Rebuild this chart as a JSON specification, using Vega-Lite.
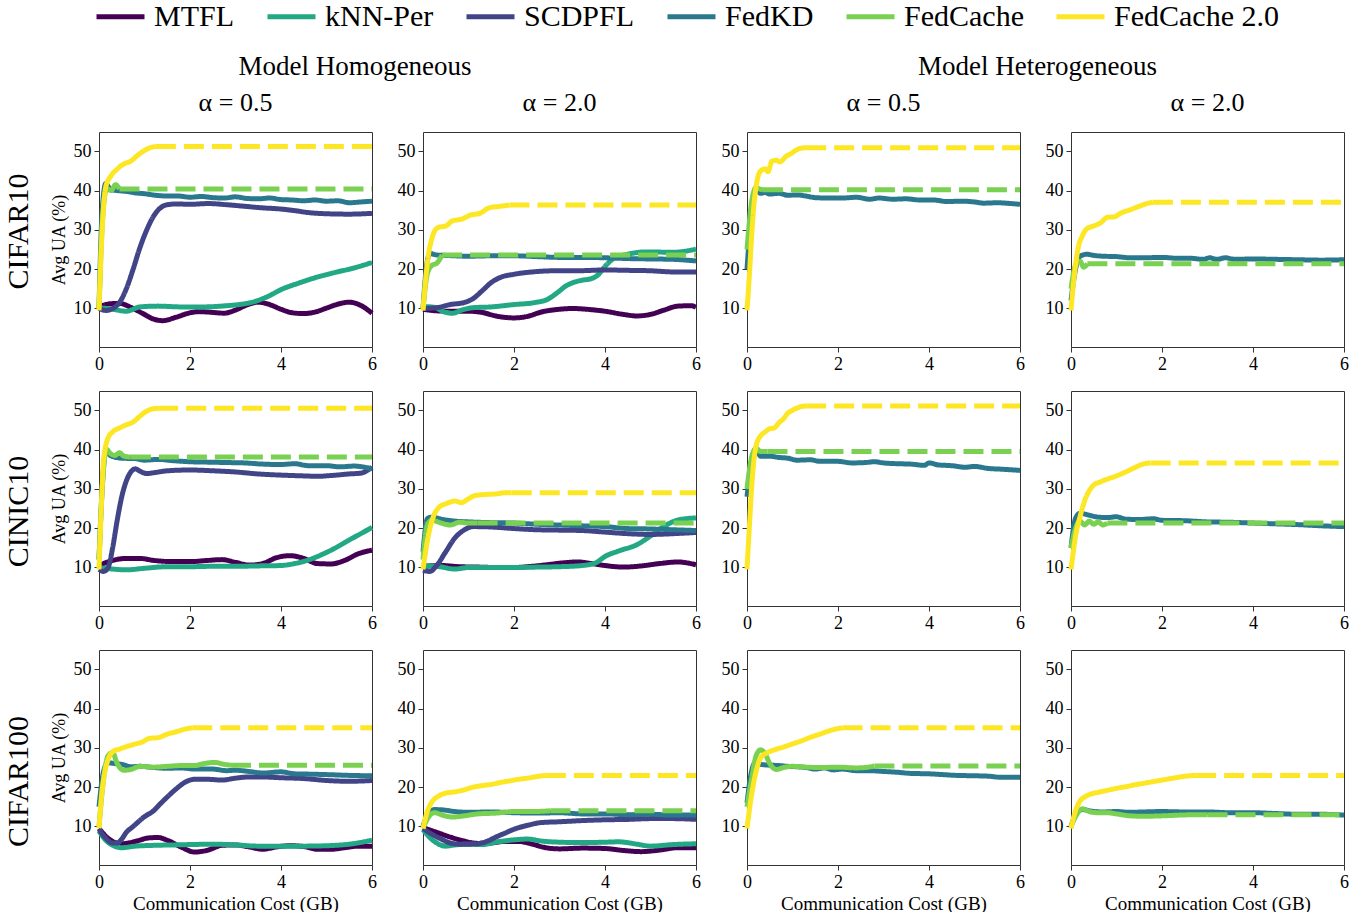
{
"$schema": "https://vega.github.io/schema/vega-lite/v6.json",
"padding": {"left": 3, "top": -10, "right": 5, "bottom": 5},
"background": "white",
"data": {"values": [
{"p":"11","m":"MTFL","s":"s","x":0,"y":10.5},{"p":"11","m":"MTFL","s":"s","x":0.25,"y":11.2},{"p":"11","m":"MTFL","s":"s","x":0.45,"y":11.3},{"p":"11","m":"MTFL","s":"s","x":0.7,"y":10.3},{"p":"11","m":"MTFL","s":"s","x":0.95,"y":8.8},{"p":"11","m":"MTFL","s":"s","x":1.2,"y":7.3},{"p":"11","m":"MTFL","s":"s","x":1.4,"y":6.9},{"p":"11","m":"MTFL","s":"s","x":1.7,"y":7.8},{"p":"11","m":"MTFL","s":"s","x":2.0,"y":8.9},{"p":"11","m":"MTFL","s":"s","x":2.2,"y":9.2},{"p":"11","m":"MTFL","s":"s","x":2.5,"y":9.0},{"p":"11","m":"MTFL","s":"s","x":2.75,"y":8.8},{"p":"11","m":"MTFL","s":"s","x":3.0,"y":9.6},{"p":"11","m":"MTFL","s":"s","x":3.25,"y":10.9},{"p":"11","m":"MTFL","s":"s","x":3.5,"y":11.6},{"p":"11","m":"MTFL","s":"s","x":3.75,"y":11.0},{"p":"11","m":"MTFL","s":"s","x":4.0,"y":9.8},{"p":"11","m":"MTFL","s":"s","x":4.25,"y":8.9},{"p":"11","m":"MTFL","s":"s","x":4.5,"y":8.7},{"p":"11","m":"MTFL","s":"s","x":4.75,"y":9.1},{"p":"11","m":"MTFL","s":"s","x":5.0,"y":10.1},{"p":"11","m":"MTFL","s":"s","x":5.25,"y":11.1},{"p":"11","m":"MTFL","s":"s","x":5.5,"y":11.6},{"p":"11","m":"MTFL","s":"s","x":5.75,"y":10.8},{"p":"11","m":"MTFL","s":"s","x":6.0,"y":8.8},
{"p":"11","m":"kNN-Per","s":"s","x":0,"y":10.2},{"p":"11","m":"kNN-Per","s":"s","x":0.3,"y":9.8},{"p":"11","m":"kNN-Per","s":"s","x":0.6,"y":9.3},{"p":"11","m":"kNN-Per","s":"s","x":0.9,"y":10.4},{"p":"11","m":"kNN-Per","s":"s","x":1.3,"y":10.6},{"p":"11","m":"kNN-Per","s":"s","x":1.8,"y":10.4},{"p":"11","m":"kNN-Per","s":"s","x":2.3,"y":10.4},{"p":"11","m":"kNN-Per","s":"s","x":2.8,"y":10.7},{"p":"11","m":"kNN-Per","s":"s","x":3.0,"y":10.9},{"p":"11","m":"kNN-Per","s":"s","x":3.4,"y":11.7},{"p":"11","m":"kNN-Per","s":"s","x":3.7,"y":13.0},{"p":"11","m":"kNN-Per","s":"s","x":4.0,"y":14.8},{"p":"11","m":"kNN-Per","s":"s","x":4.4,"y":16.5},{"p":"11","m":"kNN-Per","s":"s","x":4.8,"y":18.0},{"p":"11","m":"kNN-Per","s":"s","x":5.2,"y":19.2},{"p":"11","m":"kNN-Per","s":"s","x":5.6,"y":20.3},{"p":"11","m":"kNN-Per","s":"s","x":6.0,"y":21.7},
{"p":"11","m":"SCDPFL","s":"s","x":0,"y":10},{"p":"11","m":"SCDPFL","s":"s","x":0.15,"y":9.5},{"p":"11","m":"SCDPFL","s":"s","x":0.3,"y":10},{"p":"11","m":"SCDPFL","s":"s","x":0.45,"y":11.5},{"p":"11","m":"SCDPFL","s":"s","x":0.6,"y":15},{"p":"11","m":"SCDPFL","s":"s","x":0.75,"y":20},{"p":"11","m":"SCDPFL","s":"s","x":0.9,"y":25.5},{"p":"11","m":"SCDPFL","s":"s","x":1.05,"y":30},{"p":"11","m":"SCDPFL","s":"s","x":1.2,"y":33.5},{"p":"11","m":"SCDPFL","s":"s","x":1.35,"y":35.6},{"p":"11","m":"SCDPFL","s":"s","x":1.5,"y":36.4},{"p":"11","m":"SCDPFL","s":"s","x":1.7,"y":36.6},{"p":"11","m":"SCDPFL","s":"s","x":2.0,"y":36.5},{"p":"11","m":"SCDPFL","s":"s","x":2.4,"y":36.7},{"p":"11","m":"SCDPFL","s":"s","x":2.8,"y":36.4},{"p":"11","m":"SCDPFL","s":"s","x":3.2,"y":36.0},{"p":"11","m":"SCDPFL","s":"s","x":3.6,"y":35.6},{"p":"11","m":"SCDPFL","s":"s","x":4.0,"y":35.3},{"p":"11","m":"SCDPFL","s":"s","x":4.3,"y":34.9},{"p":"11","m":"SCDPFL","s":"s","x":4.6,"y":34.4},{"p":"11","m":"SCDPFL","s":"s","x":5.0,"y":34.1},{"p":"11","m":"SCDPFL","s":"s","x":5.5,"y":34.0},{"p":"11","m":"SCDPFL","s":"s","x":6.0,"y":34.2},
{"p":"11","m":"FedKD","s":"s","x":0,"y":10},{"p":"11","m":"FedKD","s":"s","x":0.07,"y":35},{"p":"11","m":"FedKD","s":"s","x":0.15,"y":41.8},{"p":"11","m":"FedKD","s":"s","x":0.25,"y":40.3},{"p":"11","m":"FedKD","s":"s","x":0.4,"y":40.0},{"p":"11","m":"FedKD","s":"s","x":0.6,"y":39.8},{"p":"11","m":"FedKD","s":"s","x":0.8,"y":39.4},{"p":"11","m":"FedKD","s":"s","x":1.0,"y":39.2},{"p":"11","m":"FedKD","s":"s","x":1.25,"y":38.8},{"p":"11","m":"FedKD","s":"s","x":1.5,"y":38.6},{"p":"11","m":"FedKD","s":"s","x":1.75,"y":38.6},{"p":"11","m":"FedKD","s":"s","x":2.0,"y":38.3},{"p":"11","m":"FedKD","s":"s","x":2.25,"y":38.5},{"p":"11","m":"FedKD","s":"s","x":2.5,"y":38.2},{"p":"11","m":"FedKD","s":"s","x":2.75,"y":38.1},{"p":"11","m":"FedKD","s":"s","x":3.0,"y":38.4},{"p":"11","m":"FedKD","s":"s","x":3.25,"y":38.0},{"p":"11","m":"FedKD","s":"s","x":3.5,"y":37.9},{"p":"11","m":"FedKD","s":"s","x":3.75,"y":38.1},{"p":"11","m":"FedKD","s":"s","x":4.0,"y":37.7},{"p":"11","m":"FedKD","s":"s","x":4.25,"y":37.6},{"p":"11","m":"FedKD","s":"s","x":4.5,"y":37.4},{"p":"11","m":"FedKD","s":"s","x":4.75,"y":37.6},{"p":"11","m":"FedKD","s":"s","x":5.0,"y":37.3},{"p":"11","m":"FedKD","s":"s","x":5.25,"y":37.4},{"p":"11","m":"FedKD","s":"s","x":5.5,"y":36.9},{"p":"11","m":"FedKD","s":"s","x":5.75,"y":37.1},{"p":"11","m":"FedKD","s":"s","x":6.0,"y":37.3},
{"p":"11","m":"FedCache","s":"s","x":0,"y":10},{"p":"11","m":"FedCache","s":"s","x":0.08,"y":33},{"p":"11","m":"FedCache","s":"s","x":0.17,"y":40.5},{"p":"11","m":"FedCache","s":"s","x":0.27,"y":40.0},{"p":"11","m":"FedCache","s":"s","x":0.36,"y":41.5},{"p":"11","m":"FedCache","s":"s","x":0.45,"y":40.4},
{"p":"11","m":"FedCache","s":"d","x":0.45,"y":40.4},{"p":"11","m":"FedCache","s":"d","x":6,"y":40.4},
{"p":"11","m":"FedCache 2.0","s":"s","x":0,"y":9.5},{"p":"11","m":"FedCache 2.0","s":"s","x":0.05,"y":25},{"p":"11","m":"FedCache 2.0","s":"s","x":0.1,"y":36},{"p":"11","m":"FedCache 2.0","s":"s","x":0.15,"y":41},{"p":"11","m":"FedCache 2.0","s":"s","x":0.25,"y":43.5},{"p":"11","m":"FedCache 2.0","s":"s","x":0.4,"y":45.5},{"p":"11","m":"FedCache 2.0","s":"s","x":0.55,"y":46.8},{"p":"11","m":"FedCache 2.0","s":"s","x":0.7,"y":47.5},{"p":"11","m":"FedCache 2.0","s":"s","x":0.85,"y":49.0},{"p":"11","m":"FedCache 2.0","s":"s","x":1.0,"y":50.2},{"p":"11","m":"FedCache 2.0","s":"s","x":1.15,"y":51.0},{"p":"11","m":"FedCache 2.0","s":"s","x":1.25,"y":51.2},
{"p":"11","m":"FedCache 2.0","s":"d","x":1.25,"y":51.2},{"p":"11","m":"FedCache 2.0","s":"d","x":6,"y":51.2},

{"p":"12","m":"MTFL","s":"s","x":0,"y":9.8},{"p":"12","m":"MTFL","s":"s","x":0.3,"y":9.4},{"p":"12","m":"MTFL","s":"s","x":0.6,"y":9.3},{"p":"12","m":"MTFL","s":"s","x":1.0,"y":9.3},{"p":"12","m":"MTFL","s":"s","x":1.3,"y":9.0},{"p":"12","m":"MTFL","s":"s","x":1.6,"y":8.1},{"p":"12","m":"MTFL","s":"s","x":2.0,"y":7.6},{"p":"12","m":"MTFL","s":"s","x":2.3,"y":8.0},{"p":"12","m":"MTFL","s":"s","x":2.6,"y":9.1},{"p":"12","m":"MTFL","s":"s","x":3.0,"y":9.8},{"p":"12","m":"MTFL","s":"s","x":3.3,"y":10.0},{"p":"12","m":"MTFL","s":"s","x":3.6,"y":9.8},{"p":"12","m":"MTFL","s":"s","x":4.0,"y":9.3},{"p":"12","m":"MTFL","s":"s","x":4.4,"y":8.5},{"p":"12","m":"MTFL","s":"s","x":4.7,"y":8.1},{"p":"12","m":"MTFL","s":"s","x":5.0,"y":8.5},{"p":"12","m":"MTFL","s":"s","x":5.3,"y":9.6},{"p":"12","m":"MTFL","s":"s","x":5.6,"y":10.6},{"p":"12","m":"MTFL","s":"s","x":5.9,"y":10.7},{"p":"12","m":"MTFL","s":"s","x":6.0,"y":10.3},
{"p":"12","m":"kNN-Per","s":"s","x":0,"y":10.5},{"p":"12","m":"kNN-Per","s":"s","x":0.25,"y":10.3},{"p":"12","m":"kNN-Per","s":"s","x":0.45,"y":9.2},{"p":"12","m":"kNN-Per","s":"s","x":0.65,"y":8.8},{"p":"12","m":"kNN-Per","s":"s","x":0.85,"y":9.6},{"p":"12","m":"kNN-Per","s":"s","x":1.1,"y":10.2},{"p":"12","m":"kNN-Per","s":"s","x":1.5,"y":10.4},{"p":"12","m":"kNN-Per","s":"s","x":2.0,"y":11.0},{"p":"12","m":"kNN-Per","s":"s","x":2.45,"y":11.5},{"p":"12","m":"kNN-Per","s":"s","x":2.75,"y":12.4},{"p":"12","m":"kNN-Per","s":"s","x":2.95,"y":14.0},{"p":"12","m":"kNN-Per","s":"s","x":3.15,"y":15.8},{"p":"12","m":"kNN-Per","s":"s","x":3.3,"y":16.6},{"p":"12","m":"kNN-Per","s":"s","x":3.5,"y":17.2},{"p":"12","m":"kNN-Per","s":"s","x":3.7,"y":17.6},{"p":"12","m":"kNN-Per","s":"s","x":3.85,"y":18.6},{"p":"12","m":"kNN-Per","s":"s","x":4.0,"y":20.7},{"p":"12","m":"kNN-Per","s":"s","x":4.2,"y":22.8},{"p":"12","m":"kNN-Per","s":"s","x":4.5,"y":23.8},{"p":"12","m":"kNN-Per","s":"s","x":4.9,"y":24.4},{"p":"12","m":"kNN-Per","s":"s","x":5.5,"y":24.3},{"p":"12","m":"kNN-Per","s":"s","x":6.0,"y":25.1},
{"p":"12","m":"SCDPFL","s":"s","x":0,"y":10},{"p":"12","m":"SCDPFL","s":"s","x":0.3,"y":10.2},{"p":"12","m":"SCDPFL","s":"s","x":0.6,"y":11},{"p":"12","m":"SCDPFL","s":"s","x":0.9,"y":11.5},{"p":"12","m":"SCDPFL","s":"s","x":1.1,"y":12.5},{"p":"12","m":"SCDPFL","s":"s","x":1.3,"y":14.5},{"p":"12","m":"SCDPFL","s":"s","x":1.5,"y":16.6},{"p":"12","m":"SCDPFL","s":"s","x":1.7,"y":17.9},{"p":"12","m":"SCDPFL","s":"s","x":2.0,"y":18.7},{"p":"12","m":"SCDPFL","s":"s","x":2.4,"y":19.3},{"p":"12","m":"SCDPFL","s":"s","x":2.95,"y":19.6},{"p":"12","m":"SCDPFL","s":"s","x":3.4,"y":19.6},{"p":"12","m":"SCDPFL","s":"s","x":4.0,"y":19.8},{"p":"12","m":"SCDPFL","s":"s","x":4.5,"y":19.7},{"p":"12","m":"SCDPFL","s":"s","x":5.0,"y":19.6},{"p":"12","m":"SCDPFL","s":"s","x":5.5,"y":19.3},{"p":"12","m":"SCDPFL","s":"s","x":6.0,"y":19.3},
{"p":"12","m":"FedKD","s":"s","x":0,"y":10},{"p":"12","m":"FedKD","s":"s","x":0.07,"y":20},{"p":"12","m":"FedKD","s":"s","x":0.15,"y":24.0},{"p":"12","m":"FedKD","s":"s","x":0.3,"y":23.6},{"p":"12","m":"FedKD","s":"s","x":0.5,"y":23.5},{"p":"12","m":"FedKD","s":"s","x":1.0,"y":23.3},{"p":"12","m":"FedKD","s":"s","x":1.5,"y":23.4},{"p":"12","m":"FedKD","s":"s","x":2.0,"y":23.4},{"p":"12","m":"FedKD","s":"s","x":2.5,"y":23.2},{"p":"12","m":"FedKD","s":"s","x":3.0,"y":23.0},{"p":"12","m":"FedKD","s":"s","x":3.5,"y":23.0},{"p":"12","m":"FedKD","s":"s","x":4.0,"y":22.9},{"p":"12","m":"FedKD","s":"s","x":4.5,"y":22.7},{"p":"12","m":"FedKD","s":"s","x":5.0,"y":22.6},{"p":"12","m":"FedKD","s":"s","x":5.5,"y":22.5},{"p":"12","m":"FedKD","s":"s","x":6.0,"y":22.1},
{"p":"12","m":"FedCache","s":"s","x":0,"y":10},{"p":"12","m":"FedCache","s":"s","x":0.1,"y":19},{"p":"12","m":"FedCache","s":"s","x":0.2,"y":21},{"p":"12","m":"FedCache","s":"s","x":0.3,"y":21.5},{"p":"12","m":"FedCache","s":"s","x":0.42,"y":23.6},
{"p":"12","m":"FedCache","s":"d","x":0.42,"y":23.6},{"p":"12","m":"FedCache","s":"d","x":6,"y":23.6},
{"p":"12","m":"FedCache 2.0","s":"s","x":0,"y":9.5},{"p":"12","m":"FedCache 2.0","s":"s","x":0.1,"y":22},{"p":"12","m":"FedCache 2.0","s":"s","x":0.2,"y":28},{"p":"12","m":"FedCache 2.0","s":"s","x":0.33,"y":30.6},{"p":"12","m":"FedCache 2.0","s":"s","x":0.5,"y":31.0},{"p":"12","m":"FedCache 2.0","s":"s","x":0.65,"y":32.3},{"p":"12","m":"FedCache 2.0","s":"s","x":0.84,"y":32.7},{"p":"12","m":"FedCache 2.0","s":"s","x":1.05,"y":33.8},{"p":"12","m":"FedCache 2.0","s":"s","x":1.25,"y":34.2},{"p":"12","m":"FedCache 2.0","s":"s","x":1.45,"y":35.6},{"p":"12","m":"FedCache 2.0","s":"s","x":1.7,"y":36.0},{"p":"12","m":"FedCache 2.0","s":"s","x":1.9,"y":36.3},
{"p":"12","m":"FedCache 2.0","s":"d","x":1.9,"y":36.3},{"p":"12","m":"FedCache 2.0","s":"d","x":6,"y":36.3},

{"p":"13","m":"FedKD","s":"s","x":0,"y":20},{"p":"13","m":"FedKD","s":"s","x":0.05,"y":28},{"p":"13","m":"FedKD","s":"s","x":0.12,"y":37},{"p":"13","m":"FedKD","s":"s","x":0.2,"y":40.2},{"p":"13","m":"FedKD","s":"s","x":0.3,"y":39.3},{"p":"13","m":"FedKD","s":"s","x":0.4,"y":39.5},{"p":"13","m":"FedKD","s":"s","x":0.5,"y":39.1},{"p":"13","m":"FedKD","s":"s","x":0.7,"y":39.3},{"p":"13","m":"FedKD","s":"s","x":0.9,"y":38.8},{"p":"13","m":"FedKD","s":"s","x":1.1,"y":38.9},{"p":"13","m":"FedKD","s":"s","x":1.3,"y":38.6},{"p":"13","m":"FedKD","s":"s","x":1.5,"y":38.2},{"p":"13","m":"FedKD","s":"s","x":1.8,"y":38.1},{"p":"13","m":"FedKD","s":"s","x":2.1,"y":38.1},{"p":"13","m":"FedKD","s":"s","x":2.4,"y":38.3},{"p":"13","m":"FedKD","s":"s","x":2.7,"y":37.8},{"p":"13","m":"FedKD","s":"s","x":2.9,"y":38.1},{"p":"13","m":"FedKD","s":"s","x":3.2,"y":37.8},{"p":"13","m":"FedKD","s":"s","x":3.5,"y":37.9},{"p":"13","m":"FedKD","s":"s","x":3.8,"y":37.6},{"p":"13","m":"FedKD","s":"s","x":4.1,"y":37.6},{"p":"13","m":"FedKD","s":"s","x":4.4,"y":37.2},{"p":"13","m":"FedKD","s":"s","x":4.7,"y":37.3},{"p":"13","m":"FedKD","s":"s","x":5.0,"y":37.1},{"p":"13","m":"FedKD","s":"s","x":5.2,"y":36.8},{"p":"13","m":"FedKD","s":"s","x":5.5,"y":36.9},{"p":"13","m":"FedKD","s":"s","x":5.8,"y":36.7},{"p":"13","m":"FedKD","s":"s","x":6.0,"y":36.5},
{"p":"13","m":"FedCache","s":"s","x":0,"y":25},{"p":"13","m":"FedCache","s":"s","x":0.1,"y":37},{"p":"13","m":"FedCache","s":"s","x":0.2,"y":40.8},{"p":"13","m":"FedCache","s":"s","x":0.3,"y":40.3},{"p":"13","m":"FedCache","s":"s","x":0.35,"y":40.2},
{"p":"13","m":"FedCache","s":"d","x":0.35,"y":40.2},{"p":"13","m":"FedCache","s":"d","x":6,"y":40.2},
{"p":"13","m":"FedCache 2.0","s":"s","x":0,"y":9.5},{"p":"13","m":"FedCache 2.0","s":"s","x":0.05,"y":18},{"p":"13","m":"FedCache 2.0","s":"s","x":0.1,"y":28},{"p":"13","m":"FedCache 2.0","s":"s","x":0.15,"y":36},{"p":"13","m":"FedCache 2.0","s":"s","x":0.2,"y":41},{"p":"13","m":"FedCache 2.0","s":"s","x":0.3,"y":45.0},{"p":"13","m":"FedCache 2.0","s":"s","x":0.4,"y":45.5},{"p":"13","m":"FedCache 2.0","s":"s","x":0.46,"y":44.8},{"p":"13","m":"FedCache 2.0","s":"s","x":0.55,"y":47.5},{"p":"13","m":"FedCache 2.0","s":"s","x":0.65,"y":47.7},{"p":"13","m":"FedCache 2.0","s":"s","x":0.72,"y":47.3},{"p":"13","m":"FedCache 2.0","s":"s","x":0.86,"y":48.7},{"p":"13","m":"FedCache 2.0","s":"s","x":0.98,"y":49.5},{"p":"13","m":"FedCache 2.0","s":"s","x":1.08,"y":50.3},{"p":"13","m":"FedCache 2.0","s":"s","x":1.16,"y":50.7},{"p":"13","m":"FedCache 2.0","s":"s","x":1.3,"y":50.9},
{"p":"13","m":"FedCache 2.0","s":"d","x":1.3,"y":50.9},{"p":"13","m":"FedCache 2.0","s":"d","x":6,"y":50.9},

{"p":"14","m":"FedKD","s":"s","x":0,"y":12},{"p":"14","m":"FedKD","s":"s","x":0.1,"y":20},{"p":"14","m":"FedKD","s":"s","x":0.2,"y":23.3},{"p":"14","m":"FedKD","s":"s","x":0.35,"y":23.8},{"p":"14","m":"FedKD","s":"s","x":0.5,"y":23.5},{"p":"14","m":"FedKD","s":"s","x":0.7,"y":23.3},{"p":"14","m":"FedKD","s":"s","x":1.0,"y":23.2},{"p":"14","m":"FedKD","s":"s","x":1.3,"y":22.9},{"p":"14","m":"FedKD","s":"s","x":1.6,"y":22.9},{"p":"14","m":"FedKD","s":"s","x":2.0,"y":23.0},{"p":"14","m":"FedKD","s":"s","x":2.3,"y":22.8},{"p":"14","m":"FedKD","s":"s","x":2.6,"y":22.8},{"p":"14","m":"FedKD","s":"s","x":2.9,"y":22.5},{"p":"14","m":"FedKD","s":"s","x":3.05,"y":22.9},{"p":"14","m":"FedKD","s":"s","x":3.2,"y":22.5},{"p":"14","m":"FedKD","s":"s","x":3.4,"y":22.9},{"p":"14","m":"FedKD","s":"s","x":3.6,"y":22.5},{"p":"14","m":"FedKD","s":"s","x":4.0,"y":22.6},{"p":"14","m":"FedKD","s":"s","x":4.5,"y":22.5},{"p":"14","m":"FedKD","s":"s","x":5.0,"y":22.4},{"p":"14","m":"FedKD","s":"s","x":5.5,"y":22.3},{"p":"14","m":"FedKD","s":"s","x":6.0,"y":22.4},
{"p":"14","m":"FedCache","s":"s","x":0,"y":15},{"p":"14","m":"FedCache","s":"s","x":0.1,"y":21},{"p":"14","m":"FedCache","s":"s","x":0.2,"y":22},{"p":"14","m":"FedCache","s":"s","x":0.28,"y":20.5},{"p":"14","m":"FedCache","s":"s","x":0.36,"y":21.4},
{"p":"14","m":"FedCache","s":"d","x":0.36,"y":21.4},{"p":"14","m":"FedCache","s":"d","x":6,"y":21.4},
{"p":"14","m":"FedCache 2.0","s":"s","x":0,"y":9.5},{"p":"14","m":"FedCache 2.0","s":"s","x":0.05,"y":16},{"p":"14","m":"FedCache 2.0","s":"s","x":0.1,"y":21},{"p":"14","m":"FedCache 2.0","s":"s","x":0.15,"y":25},{"p":"14","m":"FedCache 2.0","s":"s","x":0.25,"y":28.5},{"p":"14","m":"FedCache 2.0","s":"s","x":0.35,"y":30.3},{"p":"14","m":"FedCache 2.0","s":"s","x":0.5,"y":31.0},{"p":"14","m":"FedCache 2.0","s":"s","x":0.65,"y":31.8},{"p":"14","m":"FedCache 2.0","s":"s","x":0.8,"y":33.2},{"p":"14","m":"FedCache 2.0","s":"s","x":0.95,"y":33.3},{"p":"14","m":"FedCache 2.0","s":"s","x":1.1,"y":34.3},{"p":"14","m":"FedCache 2.0","s":"s","x":1.3,"y":35.1},{"p":"14","m":"FedCache 2.0","s":"s","x":1.5,"y":36.0},{"p":"14","m":"FedCache 2.0","s":"s","x":1.7,"y":36.8},{"p":"14","m":"FedCache 2.0","s":"s","x":1.8,"y":37.0},
{"p":"14","m":"FedCache 2.0","s":"d","x":1.8,"y":37.0},{"p":"14","m":"FedCache 2.0","s":"d","x":6,"y":37.0},

{"p":"21","m":"MTFL","s":"s","x":0,"y":10.5},{"p":"21","m":"MTFL","s":"s","x":0.3,"y":11.8},{"p":"21","m":"MTFL","s":"s","x":0.6,"y":12.3},{"p":"21","m":"MTFL","s":"s","x":0.9,"y":12.3},{"p":"21","m":"MTFL","s":"s","x":1.2,"y":11.8},{"p":"21","m":"MTFL","s":"s","x":1.6,"y":11.5},{"p":"21","m":"MTFL","s":"s","x":2.0,"y":11.5},{"p":"21","m":"MTFL","s":"s","x":2.4,"y":11.8},{"p":"21","m":"MTFL","s":"s","x":2.7,"y":12.0},{"p":"21","m":"MTFL","s":"s","x":3.0,"y":11.3},{"p":"21","m":"MTFL","s":"s","x":3.3,"y":10.6},{"p":"21","m":"MTFL","s":"s","x":3.6,"y":11.0},{"p":"21","m":"MTFL","s":"s","x":3.9,"y":12.5},{"p":"21","m":"MTFL","s":"s","x":4.2,"y":13.0},{"p":"21","m":"MTFL","s":"s","x":4.5,"y":12.3},{"p":"21","m":"MTFL","s":"s","x":4.8,"y":11.0},{"p":"21","m":"MTFL","s":"s","x":5.1,"y":10.9},{"p":"21","m":"MTFL","s":"s","x":5.4,"y":11.8},{"p":"21","m":"MTFL","s":"s","x":5.7,"y":13.5},{"p":"21","m":"MTFL","s":"s","x":6.0,"y":14.4},
{"p":"21","m":"kNN-Per","s":"s","x":0,"y":10},{"p":"21","m":"kNN-Per","s":"s","x":0.3,"y":9.6},{"p":"21","m":"kNN-Per","s":"s","x":0.6,"y":9.4},{"p":"21","m":"kNN-Per","s":"s","x":1.0,"y":9.8},{"p":"21","m":"kNN-Per","s":"s","x":1.5,"y":10.2},{"p":"21","m":"kNN-Per","s":"s","x":2.0,"y":10.2},{"p":"21","m":"kNN-Per","s":"s","x":2.5,"y":10.3},{"p":"21","m":"kNN-Per","s":"s","x":3.0,"y":10.3},{"p":"21","m":"kNN-Per","s":"s","x":3.5,"y":10.4},{"p":"21","m":"kNN-Per","s":"s","x":4.0,"y":10.5},{"p":"21","m":"kNN-Per","s":"s","x":4.3,"y":11.0},{"p":"21","m":"kNN-Per","s":"s","x":4.6,"y":11.9},{"p":"21","m":"kNN-Per","s":"s","x":4.9,"y":13.3},{"p":"21","m":"kNN-Per","s":"s","x":5.2,"y":15.0},{"p":"21","m":"kNN-Per","s":"s","x":5.5,"y":17.0},{"p":"21","m":"kNN-Per","s":"s","x":5.8,"y":18.9},{"p":"21","m":"kNN-Per","s":"s","x":6.0,"y":20.2},
{"p":"21","m":"SCDPFL","s":"s","x":0,"y":9.5},{"p":"21","m":"SCDPFL","s":"s","x":0.1,"y":9.0},{"p":"21","m":"SCDPFL","s":"s","x":0.2,"y":10},{"p":"21","m":"SCDPFL","s":"s","x":0.3,"y":15},{"p":"21","m":"SCDPFL","s":"s","x":0.4,"y":22},{"p":"21","m":"SCDPFL","s":"s","x":0.5,"y":28},{"p":"21","m":"SCDPFL","s":"s","x":0.6,"y":32},{"p":"21","m":"SCDPFL","s":"s","x":0.7,"y":34.3},{"p":"21","m":"SCDPFL","s":"s","x":0.8,"y":35.1},{"p":"21","m":"SCDPFL","s":"s","x":0.9,"y":34.5},{"p":"21","m":"SCDPFL","s":"s","x":1.05,"y":33.9},{"p":"21","m":"SCDPFL","s":"s","x":1.2,"y":34.1},{"p":"21","m":"SCDPFL","s":"s","x":1.5,"y":34.6},{"p":"21","m":"SCDPFL","s":"s","x":2.0,"y":34.8},{"p":"21","m":"SCDPFL","s":"s","x":2.5,"y":34.6},{"p":"21","m":"SCDPFL","s":"s","x":3.0,"y":34.3},{"p":"21","m":"SCDPFL","s":"s","x":3.5,"y":33.8},{"p":"21","m":"SCDPFL","s":"s","x":4.0,"y":33.5},{"p":"21","m":"SCDPFL","s":"s","x":4.5,"y":33.3},{"p":"21","m":"SCDPFL","s":"s","x":4.8,"y":33.2},{"p":"21","m":"SCDPFL","s":"s","x":5.1,"y":33.4},{"p":"21","m":"SCDPFL","s":"s","x":5.5,"y":33.8},{"p":"21","m":"SCDPFL","s":"s","x":5.75,"y":34.0},{"p":"21","m":"SCDPFL","s":"s","x":6.0,"y":35.5},
{"p":"21","m":"FedKD","s":"s","x":0,"y":12},{"p":"21","m":"FedKD","s":"s","x":0.07,"y":30},{"p":"21","m":"FedKD","s":"s","x":0.15,"y":40},{"p":"21","m":"FedKD","s":"s","x":0.25,"y":38.5},{"p":"21","m":"FedKD","s":"s","x":0.5,"y":37.8},{"p":"21","m":"FedKD","s":"s","x":0.8,"y":37.7},{"p":"21","m":"FedKD","s":"s","x":1.0,"y":37.3},{"p":"21","m":"FedKD","s":"s","x":1.3,"y":37.5},{"p":"21","m":"FedKD","s":"s","x":1.6,"y":37.2},{"p":"21","m":"FedKD","s":"s","x":2.0,"y":36.9},{"p":"21","m":"FedKD","s":"s","x":2.4,"y":36.8},{"p":"21","m":"FedKD","s":"s","x":2.8,"y":36.7},{"p":"21","m":"FedKD","s":"s","x":3.2,"y":36.6},{"p":"21","m":"FedKD","s":"s","x":3.6,"y":36.3},{"p":"21","m":"FedKD","s":"s","x":4.0,"y":36.2},{"p":"21","m":"FedKD","s":"s","x":4.3,"y":36.4},{"p":"21","m":"FedKD","s":"s","x":4.6,"y":35.9},{"p":"21","m":"FedKD","s":"s","x":5.0,"y":35.9},{"p":"21","m":"FedKD","s":"s","x":5.3,"y":35.6},{"p":"21","m":"FedKD","s":"s","x":5.6,"y":35.8},{"p":"21","m":"FedKD","s":"s","x":6.0,"y":35.1},
{"p":"21","m":"FedCache","s":"s","x":0,"y":12},{"p":"21","m":"FedCache","s":"s","x":0.08,"y":32},{"p":"21","m":"FedCache","s":"s","x":0.17,"y":40},{"p":"21","m":"FedCache","s":"s","x":0.25,"y":39.0},{"p":"21","m":"FedCache","s":"s","x":0.35,"y":38.5},{"p":"21","m":"FedCache","s":"s","x":0.45,"y":39.2},{"p":"21","m":"FedCache","s":"s","x":0.55,"y":38.3},{"p":"21","m":"FedCache","s":"s","x":0.7,"y":38.1},
{"p":"21","m":"FedCache","s":"d","x":0.7,"y":38.1},{"p":"21","m":"FedCache","s":"d","x":6,"y":38.1},
{"p":"21","m":"FedCache 2.0","s":"s","x":0,"y":9.5},{"p":"21","m":"FedCache 2.0","s":"s","x":0.05,"y":25},{"p":"21","m":"FedCache 2.0","s":"s","x":0.1,"y":37},{"p":"21","m":"FedCache 2.0","s":"s","x":0.2,"y":43},{"p":"21","m":"FedCache 2.0","s":"s","x":0.3,"y":44.5},{"p":"21","m":"FedCache 2.0","s":"s","x":0.45,"y":45.5},{"p":"21","m":"FedCache 2.0","s":"s","x":0.6,"y":46.3},{"p":"21","m":"FedCache 2.0","s":"s","x":0.75,"y":47},{"p":"21","m":"FedCache 2.0","s":"s","x":0.9,"y":48.5},{"p":"21","m":"FedCache 2.0","s":"s","x":1.05,"y":49.8},{"p":"21","m":"FedCache 2.0","s":"s","x":1.2,"y":50.4},{"p":"21","m":"FedCache 2.0","s":"s","x":1.3,"y":50.5},
{"p":"21","m":"FedCache 2.0","s":"d","x":1.3,"y":50.5},{"p":"21","m":"FedCache 2.0","s":"d","x":6,"y":50.5},

{"p":"22","m":"MTFL","s":"s","x":0,"y":10.3},{"p":"22","m":"MTFL","s":"s","x":0.4,"y":10.5},{"p":"22","m":"MTFL","s":"s","x":0.8,"y":10.2},{"p":"22","m":"MTFL","s":"s","x":1.2,"y":10.1},{"p":"22","m":"MTFL","s":"s","x":1.6,"y":10.0},{"p":"22","m":"MTFL","s":"s","x":2.0,"y":10.0},{"p":"22","m":"MTFL","s":"s","x":2.4,"y":10.3},{"p":"22","m":"MTFL","s":"s","x":2.8,"y":10.8},{"p":"22","m":"MTFL","s":"s","x":3.1,"y":11.2},{"p":"22","m":"MTFL","s":"s","x":3.4,"y":11.4},{"p":"22","m":"MTFL","s":"s","x":3.7,"y":11.0},{"p":"22","m":"MTFL","s":"s","x":4.0,"y":10.5},{"p":"22","m":"MTFL","s":"s","x":4.4,"y":10.1},{"p":"22","m":"MTFL","s":"s","x":4.8,"y":10.4},{"p":"22","m":"MTFL","s":"s","x":5.2,"y":11.0},{"p":"22","m":"MTFL","s":"s","x":5.6,"y":11.4},{"p":"22","m":"MTFL","s":"s","x":6.0,"y":10.7},
{"p":"22","m":"kNN-Per","s":"s","x":0,"y":10.4},{"p":"22","m":"kNN-Per","s":"s","x":0.3,"y":10.3},{"p":"22","m":"kNN-Per","s":"s","x":0.7,"y":9.6},{"p":"22","m":"kNN-Per","s":"s","x":1.0,"y":10.0},{"p":"22","m":"kNN-Per","s":"s","x":1.5,"y":10.0},{"p":"22","m":"kNN-Per","s":"s","x":2.0,"y":10.0},{"p":"22","m":"kNN-Per","s":"s","x":2.5,"y":10.1},{"p":"22","m":"kNN-Per","s":"s","x":3.0,"y":10.2},{"p":"22","m":"kNN-Per","s":"s","x":3.5,"y":10.5},{"p":"22","m":"kNN-Per","s":"s","x":3.8,"y":11.2},{"p":"22","m":"kNN-Per","s":"s","x":4.0,"y":12.8},{"p":"22","m":"kNN-Per","s":"s","x":4.3,"y":14.2},{"p":"22","m":"kNN-Per","s":"s","x":4.7,"y":15.8},{"p":"22","m":"kNN-Per","s":"s","x":5.0,"y":18.0},{"p":"22","m":"kNN-Per","s":"s","x":5.3,"y":20.5},{"p":"22","m":"kNN-Per","s":"s","x":5.65,"y":22.2},{"p":"22","m":"kNN-Per","s":"s","x":6.0,"y":22.6},
{"p":"22","m":"SCDPFL","s":"s","x":0,"y":9.3},{"p":"22","m":"SCDPFL","s":"s","x":0.15,"y":9.0},{"p":"22","m":"SCDPFL","s":"s","x":0.3,"y":10.5},{"p":"22","m":"SCDPFL","s":"s","x":0.5,"y":14},{"p":"22","m":"SCDPFL","s":"s","x":0.7,"y":17.5},{"p":"22","m":"SCDPFL","s":"s","x":0.9,"y":19.5},{"p":"22","m":"SCDPFL","s":"s","x":1.1,"y":20.4},{"p":"22","m":"SCDPFL","s":"s","x":1.5,"y":20.3},{"p":"22","m":"SCDPFL","s":"s","x":2.0,"y":19.9},{"p":"22","m":"SCDPFL","s":"s","x":2.5,"y":19.6},{"p":"22","m":"SCDPFL","s":"s","x":3.0,"y":19.5},{"p":"22","m":"SCDPFL","s":"s","x":3.5,"y":19.4},{"p":"22","m":"SCDPFL","s":"s","x":4.0,"y":19.0},{"p":"22","m":"SCDPFL","s":"s","x":4.5,"y":18.6},{"p":"22","m":"SCDPFL","s":"s","x":5.0,"y":18.4},{"p":"22","m":"SCDPFL","s":"s","x":5.5,"y":18.6},{"p":"22","m":"SCDPFL","s":"s","x":6.0,"y":18.9},
{"p":"22","m":"FedKD","s":"s","x":0,"y":14},{"p":"22","m":"FedKD","s":"s","x":0.1,"y":22.5},{"p":"22","m":"FedKD","s":"s","x":0.2,"y":22.8},{"p":"22","m":"FedKD","s":"s","x":0.4,"y":22.3},{"p":"22","m":"FedKD","s":"s","x":0.7,"y":21.8},{"p":"22","m":"FedKD","s":"s","x":1.0,"y":21.6},{"p":"22","m":"FedKD","s":"s","x":1.5,"y":21.4},{"p":"22","m":"FedKD","s":"s","x":2.0,"y":21.3},{"p":"22","m":"FedKD","s":"s","x":2.5,"y":21.0},{"p":"22","m":"FedKD","s":"s","x":3.0,"y":20.8},{"p":"22","m":"FedKD","s":"s","x":3.5,"y":20.6},{"p":"22","m":"FedKD","s":"s","x":4.0,"y":20.4},{"p":"22","m":"FedKD","s":"s","x":4.5,"y":19.9},{"p":"22","m":"FedKD","s":"s","x":5.0,"y":19.8},{"p":"22","m":"FedKD","s":"s","x":5.5,"y":19.6},{"p":"22","m":"FedKD","s":"s","x":6.0,"y":19.4},
{"p":"22","m":"FedCache","s":"s","x":0,"y":12},{"p":"22","m":"FedCache","s":"s","x":0.1,"y":21},{"p":"22","m":"FedCache","s":"s","x":0.2,"y":22},{"p":"22","m":"FedCache","s":"s","x":0.4,"y":21.3},{"p":"22","m":"FedCache","s":"s","x":0.6,"y":20.8},{"p":"22","m":"FedCache","s":"s","x":0.8,"y":21.5},{"p":"22","m":"FedCache","s":"s","x":1.0,"y":21.3},{"p":"22","m":"FedCache","s":"s","x":1.2,"y":21.3},
{"p":"22","m":"FedCache","s":"d","x":1.2,"y":21.3},{"p":"22","m":"FedCache","s":"d","x":6,"y":21.3},
{"p":"22","m":"FedCache 2.0","s":"s","x":0,"y":9.5},{"p":"22","m":"FedCache 2.0","s":"s","x":0.1,"y":17},{"p":"22","m":"FedCache 2.0","s":"s","x":0.2,"y":22},{"p":"22","m":"FedCache 2.0","s":"s","x":0.35,"y":25.3},{"p":"22","m":"FedCache 2.0","s":"s","x":0.5,"y":26.2},{"p":"22","m":"FedCache 2.0","s":"s","x":0.7,"y":26.9},{"p":"22","m":"FedCache 2.0","s":"s","x":0.85,"y":26.5},{"p":"22","m":"FedCache 2.0","s":"s","x":1.0,"y":27.5},{"p":"22","m":"FedCache 2.0","s":"s","x":1.15,"y":28.3},{"p":"22","m":"FedCache 2.0","s":"s","x":1.4,"y":28.6},{"p":"22","m":"FedCache 2.0","s":"s","x":1.6,"y":28.7},{"p":"22","m":"FedCache 2.0","s":"s","x":1.8,"y":29.0},{"p":"22","m":"FedCache 2.0","s":"s","x":1.95,"y":29.0},
{"p":"22","m":"FedCache 2.0","s":"d","x":1.95,"y":29.0},{"p":"22","m":"FedCache 2.0","s":"d","x":6,"y":29.0},

{"p":"23","m":"FedKD","s":"s","x":0,"y":28},{"p":"23","m":"FedKD","s":"s","x":0.1,"y":37},{"p":"23","m":"FedKD","s":"s","x":0.2,"y":40.3},{"p":"23","m":"FedKD","s":"s","x":0.3,"y":38.3},{"p":"23","m":"FedKD","s":"s","x":0.5,"y":38.3},{"p":"23","m":"FedKD","s":"s","x":0.7,"y":38.0},{"p":"23","m":"FedKD","s":"s","x":0.9,"y":37.8},{"p":"23","m":"FedKD","s":"s","x":1.1,"y":37.3},{"p":"23","m":"FedKD","s":"s","x":1.4,"y":37.4},{"p":"23","m":"FedKD","s":"s","x":1.6,"y":37.0},{"p":"23","m":"FedKD","s":"s","x":2.0,"y":37.0},{"p":"23","m":"FedKD","s":"s","x":2.3,"y":36.6},{"p":"23","m":"FedKD","s":"s","x":2.6,"y":36.7},{"p":"23","m":"FedKD","s":"s","x":2.8,"y":36.9},{"p":"23","m":"FedKD","s":"s","x":3.0,"y":36.6},{"p":"23","m":"FedKD","s":"s","x":3.3,"y":36.4},{"p":"23","m":"FedKD","s":"s","x":3.6,"y":36.3},{"p":"23","m":"FedKD","s":"s","x":3.9,"y":36.0},{"p":"23","m":"FedKD","s":"s","x":4.0,"y":36.6},{"p":"23","m":"FedKD","s":"s","x":4.2,"y":36.1},{"p":"23","m":"FedKD","s":"s","x":4.5,"y":35.9},{"p":"23","m":"FedKD","s":"s","x":4.8,"y":35.5},{"p":"23","m":"FedKD","s":"s","x":5.0,"y":35.7},{"p":"23","m":"FedKD","s":"s","x":5.3,"y":35.2},{"p":"23","m":"FedKD","s":"s","x":5.6,"y":35.0},{"p":"23","m":"FedKD","s":"s","x":6.0,"y":34.7},
{"p":"23","m":"FedCache","s":"s","x":0,"y":30},{"p":"23","m":"FedCache","s":"s","x":0.1,"y":38},{"p":"23","m":"FedCache","s":"s","x":0.2,"y":40.3},{"p":"23","m":"FedCache","s":"s","x":0.3,"y":39.5},{"p":"23","m":"FedCache","s":"s","x":0.45,"y":39.5},
{"p":"23","m":"FedCache","s":"d","x":0.45,"y":39.5},{"p":"23","m":"FedCache","s":"d","x":6,"y":39.5},
{"p":"23","m":"FedCache 2.0","s":"s","x":0,"y":9.5},{"p":"23","m":"FedCache 2.0","s":"s","x":0.05,"y":20},{"p":"23","m":"FedCache 2.0","s":"s","x":0.1,"y":30},{"p":"23","m":"FedCache 2.0","s":"s","x":0.15,"y":37},{"p":"23","m":"FedCache 2.0","s":"s","x":0.2,"y":41},{"p":"23","m":"FedCache 2.0","s":"s","x":0.3,"y":43.5},{"p":"23","m":"FedCache 2.0","s":"s","x":0.4,"y":44.5},{"p":"23","m":"FedCache 2.0","s":"s","x":0.5,"y":45.3},{"p":"23","m":"FedCache 2.0","s":"s","x":0.6,"y":45.5},{"p":"23","m":"FedCache 2.0","s":"s","x":0.7,"y":46.8},{"p":"23","m":"FedCache 2.0","s":"s","x":0.8,"y":47.8},{"p":"23","m":"FedCache 2.0","s":"s","x":0.9,"y":49.3},{"p":"23","m":"FedCache 2.0","s":"s","x":1.0,"y":50.0},{"p":"23","m":"FedCache 2.0","s":"s","x":1.15,"y":50.8},{"p":"23","m":"FedCache 2.0","s":"s","x":1.3,"y":51.1},
{"p":"23","m":"FedCache 2.0","s":"d","x":1.3,"y":51.1},{"p":"23","m":"FedCache 2.0","s":"d","x":6,"y":51.1},

{"p":"24","m":"FedKD","s":"s","x":0,"y":15},{"p":"24","m":"FedKD","s":"s","x":0.1,"y":22.5},{"p":"24","m":"FedKD","s":"s","x":0.2,"y":23.8},{"p":"24","m":"FedKD","s":"s","x":0.4,"y":23.3},{"p":"24","m":"FedKD","s":"s","x":0.6,"y":22.8},{"p":"24","m":"FedKD","s":"s","x":0.8,"y":22.7},{"p":"24","m":"FedKD","s":"s","x":1.0,"y":22.9},{"p":"24","m":"FedKD","s":"s","x":1.2,"y":22.3},{"p":"24","m":"FedKD","s":"s","x":1.5,"y":22.2},{"p":"24","m":"FedKD","s":"s","x":1.8,"y":22.4},{"p":"24","m":"FedKD","s":"s","x":2.0,"y":22.0},{"p":"24","m":"FedKD","s":"s","x":2.5,"y":21.9},{"p":"24","m":"FedKD","s":"s","x":3.0,"y":21.6},{"p":"24","m":"FedKD","s":"s","x":3.5,"y":21.5},{"p":"24","m":"FedKD","s":"s","x":4.0,"y":21.3},{"p":"24","m":"FedKD","s":"s","x":4.5,"y":21.1},{"p":"24","m":"FedKD","s":"s","x":5.0,"y":20.9},{"p":"24","m":"FedKD","s":"s","x":5.5,"y":20.6},{"p":"24","m":"FedKD","s":"s","x":6.0,"y":20.4},
{"p":"24","m":"FedCache","s":"s","x":0,"y":15},{"p":"24","m":"FedCache","s":"s","x":0.1,"y":20},{"p":"24","m":"FedCache","s":"s","x":0.2,"y":21.8},{"p":"24","m":"FedCache","s":"s","x":0.3,"y":20.8},{"p":"24","m":"FedCache","s":"s","x":0.4,"y":21.8},{"p":"24","m":"FedCache","s":"s","x":0.5,"y":21.0},{"p":"24","m":"FedCache","s":"s","x":0.6,"y":21.6},{"p":"24","m":"FedCache","s":"s","x":0.7,"y":20.8},{"p":"24","m":"FedCache","s":"s","x":0.8,"y":21.3},
{"p":"24","m":"FedCache","s":"d","x":0.8,"y":21.3},{"p":"24","m":"FedCache","s":"d","x":6,"y":21.3},
{"p":"24","m":"FedCache 2.0","s":"s","x":0,"y":9.5},{"p":"24","m":"FedCache 2.0","s":"s","x":0.05,"y":14},{"p":"24","m":"FedCache 2.0","s":"s","x":0.1,"y":18},{"p":"24","m":"FedCache 2.0","s":"s","x":0.2,"y":23},{"p":"24","m":"FedCache 2.0","s":"s","x":0.3,"y":27},{"p":"24","m":"FedCache 2.0","s":"s","x":0.4,"y":29.5},{"p":"24","m":"FedCache 2.0","s":"s","x":0.5,"y":31},{"p":"24","m":"FedCache 2.0","s":"s","x":0.65,"y":31.8},{"p":"24","m":"FedCache 2.0","s":"s","x":0.8,"y":32.5},{"p":"24","m":"FedCache 2.0","s":"s","x":1.0,"y":33.3},{"p":"24","m":"FedCache 2.0","s":"s","x":1.2,"y":34.3},{"p":"24","m":"FedCache 2.0","s":"s","x":1.4,"y":35.4},{"p":"24","m":"FedCache 2.0","s":"s","x":1.55,"y":36.2},{"p":"24","m":"FedCache 2.0","s":"s","x":1.75,"y":36.6},
{"p":"24","m":"FedCache 2.0","s":"d","x":1.75,"y":36.6},{"p":"24","m":"FedCache 2.0","s":"d","x":6,"y":36.6},

{"p":"31","m":"MTFL","s":"s","x":0,"y":9.5},{"p":"31","m":"MTFL","s":"s","x":0.15,"y":7.5},{"p":"31","m":"MTFL","s":"s","x":0.3,"y":6.2},{"p":"31","m":"MTFL","s":"s","x":0.5,"y":5.6},{"p":"31","m":"MTFL","s":"s","x":0.8,"y":6.2},{"p":"31","m":"MTFL","s":"s","x":1.1,"y":7.1},{"p":"31","m":"MTFL","s":"s","x":1.3,"y":7.2},{"p":"31","m":"MTFL","s":"s","x":1.5,"y":6.5},{"p":"31","m":"MTFL","s":"s","x":1.8,"y":4.8},{"p":"31","m":"MTFL","s":"s","x":2.1,"y":3.5},{"p":"31","m":"MTFL","s":"s","x":2.4,"y":4.0},{"p":"31","m":"MTFL","s":"s","x":2.7,"y":5.2},{"p":"31","m":"MTFL","s":"s","x":3.0,"y":5.3},{"p":"31","m":"MTFL","s":"s","x":3.3,"y":4.8},{"p":"31","m":"MTFL","s":"s","x":3.6,"y":4.2},{"p":"31","m":"MTFL","s":"s","x":3.9,"y":4.8},{"p":"31","m":"MTFL","s":"s","x":4.2,"y":5.1},{"p":"31","m":"MTFL","s":"s","x":4.5,"y":4.9},{"p":"31","m":"MTFL","s":"s","x":4.8,"y":4.2},{"p":"31","m":"MTFL","s":"s","x":5.1,"y":4.2},{"p":"31","m":"MTFL","s":"s","x":5.4,"y":4.6},{"p":"31","m":"MTFL","s":"s","x":5.7,"y":5.0},{"p":"31","m":"MTFL","s":"s","x":6.0,"y":5.0},
{"p":"31","m":"kNN-Per","s":"s","x":0,"y":8.8},{"p":"31","m":"kNN-Per","s":"s","x":0.15,"y":6.5},{"p":"31","m":"kNN-Per","s":"s","x":0.3,"y":5.2},{"p":"31","m":"kNN-Per","s":"s","x":0.5,"y":4.6},{"p":"31","m":"kNN-Per","s":"s","x":0.8,"y":5.0},{"p":"31","m":"kNN-Per","s":"s","x":1.2,"y":5.2},{"p":"31","m":"kNN-Per","s":"s","x":1.6,"y":5.3},{"p":"31","m":"kNN-Per","s":"s","x":2.0,"y":5.4},{"p":"31","m":"kNN-Per","s":"s","x":2.5,"y":5.5},{"p":"31","m":"kNN-Per","s":"s","x":3.0,"y":5.3},{"p":"31","m":"kNN-Per","s":"s","x":3.5,"y":5.0},{"p":"31","m":"kNN-Per","s":"s","x":4.0,"y":5.0},{"p":"31","m":"kNN-Per","s":"s","x":4.5,"y":5.0},{"p":"31","m":"kNN-Per","s":"s","x":5.0,"y":5.1},{"p":"31","m":"kNN-Per","s":"s","x":5.5,"y":5.5},{"p":"31","m":"kNN-Per","s":"s","x":6.0,"y":6.5},
{"p":"31","m":"SCDPFL","s":"s","x":0,"y":9.3},{"p":"31","m":"SCDPFL","s":"s","x":0.15,"y":7},{"p":"31","m":"SCDPFL","s":"s","x":0.3,"y":5.8},{"p":"31","m":"SCDPFL","s":"s","x":0.4,"y":5.8},{"p":"31","m":"SCDPFL","s":"s","x":0.5,"y":6.8},{"p":"31","m":"SCDPFL","s":"s","x":0.6,"y":8.5},{"p":"31","m":"SCDPFL","s":"s","x":0.75,"y":10},{"p":"31","m":"SCDPFL","s":"s","x":1.0,"y":12.5},{"p":"31","m":"SCDPFL","s":"s","x":1.2,"y":14.0},{"p":"31","m":"SCDPFL","s":"s","x":1.35,"y":15.8},{"p":"31","m":"SCDPFL","s":"s","x":1.5,"y":17.5},{"p":"31","m":"SCDPFL","s":"s","x":1.7,"y":19.6},{"p":"31","m":"SCDPFL","s":"s","x":1.9,"y":21.3},{"p":"31","m":"SCDPFL","s":"s","x":2.1,"y":22.0},{"p":"31","m":"SCDPFL","s":"s","x":2.4,"y":22.0},{"p":"31","m":"SCDPFL","s":"s","x":2.7,"y":21.8},{"p":"31","m":"SCDPFL","s":"s","x":3.0,"y":22.3},{"p":"31","m":"SCDPFL","s":"s","x":3.3,"y":22.6},{"p":"31","m":"SCDPFL","s":"s","x":3.6,"y":22.6},{"p":"31","m":"SCDPFL","s":"s","x":4.0,"y":22.4},{"p":"31","m":"SCDPFL","s":"s","x":4.5,"y":22.2},{"p":"31","m":"SCDPFL","s":"s","x":5.0,"y":21.7},{"p":"31","m":"SCDPFL","s":"s","x":5.5,"y":21.5},{"p":"31","m":"SCDPFL","s":"s","x":6.0,"y":21.7},
{"p":"31","m":"FedKD","s":"s","x":0,"y":15},{"p":"31","m":"FedKD","s":"s","x":0.1,"y":24},{"p":"31","m":"FedKD","s":"s","x":0.2,"y":26.2},{"p":"31","m":"FedKD","s":"s","x":0.35,"y":26.0},{"p":"31","m":"FedKD","s":"s","x":0.5,"y":25.8},{"p":"31","m":"FedKD","s":"s","x":0.7,"y":25.2},{"p":"31","m":"FedKD","s":"s","x":0.9,"y":25.3},{"p":"31","m":"FedKD","s":"s","x":1.2,"y":25.0},{"p":"31","m":"FedKD","s":"s","x":1.5,"y":24.8},{"p":"31","m":"FedKD","s":"s","x":1.8,"y":24.9},{"p":"31","m":"FedKD","s":"s","x":2.1,"y":24.6},{"p":"31","m":"FedKD","s":"s","x":2.5,"y":24.6},{"p":"31","m":"FedKD","s":"s","x":2.8,"y":24.2},{"p":"31","m":"FedKD","s":"s","x":3.0,"y":24.3},{"p":"31","m":"FedKD","s":"s","x":3.3,"y":24.0},{"p":"31","m":"FedKD","s":"s","x":3.6,"y":23.6},{"p":"31","m":"FedKD","s":"s","x":4.0,"y":23.9},{"p":"31","m":"FedKD","s":"s","x":4.3,"y":23.4},{"p":"31","m":"FedKD","s":"s","x":4.7,"y":23.3},{"p":"31","m":"FedKD","s":"s","x":5.0,"y":23.2},{"p":"31","m":"FedKD","s":"s","x":5.5,"y":23.0},{"p":"31","m":"FedKD","s":"s","x":6.0,"y":22.9},
{"p":"31","m":"FedCache","s":"s","x":0,"y":10},{"p":"31","m":"FedCache","s":"s","x":0.1,"y":22},{"p":"31","m":"FedCache","s":"s","x":0.2,"y":28},{"p":"31","m":"FedCache","s":"s","x":0.3,"y":28.8},{"p":"31","m":"FedCache","s":"s","x":0.4,"y":26},{"p":"31","m":"FedCache","s":"s","x":0.55,"y":24.3},{"p":"31","m":"FedCache","s":"s","x":0.7,"y":24.5},{"p":"31","m":"FedCache","s":"s","x":0.9,"y":25.3},{"p":"31","m":"FedCache","s":"s","x":1.2,"y":25.1},{"p":"31","m":"FedCache","s":"s","x":1.5,"y":25.3},{"p":"31","m":"FedCache","s":"s","x":1.8,"y":25.5},{"p":"31","m":"FedCache","s":"s","x":2.1,"y":25.5},{"p":"31","m":"FedCache","s":"s","x":2.3,"y":26.0},{"p":"31","m":"FedCache","s":"s","x":2.55,"y":26.3},{"p":"31","m":"FedCache","s":"s","x":2.75,"y":25.8},{"p":"31","m":"FedCache","s":"s","x":2.9,"y":25.6},
{"p":"31","m":"FedCache","s":"d","x":2.9,"y":25.6},{"p":"31","m":"FedCache","s":"d","x":6,"y":25.6},
{"p":"31","m":"FedCache 2.0","s":"s","x":0,"y":9.5},{"p":"31","m":"FedCache 2.0","s":"s","x":0.05,"y":17},{"p":"31","m":"FedCache 2.0","s":"s","x":0.1,"y":22},{"p":"31","m":"FedCache 2.0","s":"s","x":0.2,"y":27},{"p":"31","m":"FedCache 2.0","s":"s","x":0.3,"y":29},{"p":"31","m":"FedCache 2.0","s":"s","x":0.45,"y":29.7},{"p":"31","m":"FedCache 2.0","s":"s","x":0.6,"y":30.3},{"p":"31","m":"FedCache 2.0","s":"s","x":0.8,"y":31.0},{"p":"31","m":"FedCache 2.0","s":"s","x":0.95,"y":31.5},{"p":"31","m":"FedCache 2.0","s":"s","x":1.1,"y":32.4},{"p":"31","m":"FedCache 2.0","s":"s","x":1.3,"y":32.6},{"p":"31","m":"FedCache 2.0","s":"s","x":1.5,"y":33.5},{"p":"31","m":"FedCache 2.0","s":"s","x":1.7,"y":34.1},{"p":"31","m":"FedCache 2.0","s":"s","x":1.9,"y":34.8},{"p":"31","m":"FedCache 2.0","s":"s","x":2.05,"y":35.1},
{"p":"31","m":"FedCache 2.0","s":"d","x":2.05,"y":35.1},{"p":"31","m":"FedCache 2.0","s":"d","x":6,"y":35.1},

{"p":"32","m":"MTFL","s":"s","x":0,"y":9.7},{"p":"32","m":"MTFL","s":"s","x":0.3,"y":8.5},{"p":"32","m":"MTFL","s":"s","x":0.6,"y":7.3},{"p":"32","m":"MTFL","s":"s","x":0.9,"y":6.3},{"p":"32","m":"MTFL","s":"s","x":1.2,"y":5.7},{"p":"32","m":"MTFL","s":"s","x":1.5,"y":5.8},{"p":"32","m":"MTFL","s":"s","x":1.8,"y":6.2},{"p":"32","m":"MTFL","s":"s","x":2.1,"y":6.2},{"p":"32","m":"MTFL","s":"s","x":2.4,"y":5.5},{"p":"32","m":"MTFL","s":"s","x":2.7,"y":4.6},{"p":"32","m":"MTFL","s":"s","x":3.0,"y":4.3},{"p":"32","m":"MTFL","s":"s","x":3.5,"y":4.5},{"p":"32","m":"MTFL","s":"s","x":4.0,"y":4.4},{"p":"32","m":"MTFL","s":"s","x":4.4,"y":3.9},{"p":"32","m":"MTFL","s":"s","x":4.8,"y":3.6},{"p":"32","m":"MTFL","s":"s","x":5.2,"y":4.0},{"p":"32","m":"MTFL","s":"s","x":5.6,"y":4.6},{"p":"32","m":"MTFL","s":"s","x":6.0,"y":4.6},
{"p":"32","m":"kNN-Per","s":"s","x":0,"y":9.2},{"p":"32","m":"kNN-Per","s":"s","x":0.15,"y":7.2},{"p":"32","m":"kNN-Per","s":"s","x":0.3,"y":5.8},{"p":"32","m":"kNN-Per","s":"s","x":0.5,"y":5.0},{"p":"32","m":"kNN-Per","s":"s","x":0.7,"y":5.3},{"p":"32","m":"kNN-Per","s":"s","x":1.0,"y":5.5},{"p":"32","m":"kNN-Per","s":"s","x":1.3,"y":5.4},{"p":"32","m":"kNN-Per","s":"s","x":1.6,"y":6.0},{"p":"32","m":"kNN-Per","s":"s","x":2.0,"y":6.6},{"p":"32","m":"kNN-Per","s":"s","x":2.3,"y":6.8},{"p":"32","m":"kNN-Per","s":"s","x":2.6,"y":6.3},{"p":"32","m":"kNN-Per","s":"s","x":3.0,"y":6.0},{"p":"32","m":"kNN-Per","s":"s","x":3.5,"y":5.9},{"p":"32","m":"kNN-Per","s":"s","x":4.0,"y":6.0},{"p":"32","m":"kNN-Per","s":"s","x":4.3,"y":6.1},{"p":"32","m":"kNN-Per","s":"s","x":4.7,"y":5.5},{"p":"32","m":"kNN-Per","s":"s","x":5.0,"y":5.0},{"p":"32","m":"kNN-Per","s":"s","x":5.5,"y":5.4},{"p":"32","m":"kNN-Per","s":"s","x":6.0,"y":5.6},
{"p":"32","m":"SCDPFL","s":"s","x":0,"y":9.5},{"p":"32","m":"SCDPFL","s":"s","x":0.2,"y":8},{"p":"32","m":"SCDPFL","s":"s","x":0.4,"y":6.8},{"p":"32","m":"SCDPFL","s":"s","x":0.6,"y":5.8},{"p":"32","m":"SCDPFL","s":"s","x":0.8,"y":5.5},{"p":"32","m":"SCDPFL","s":"s","x":1.0,"y":5.5},{"p":"32","m":"SCDPFL","s":"s","x":1.2,"y":5.6},{"p":"32","m":"SCDPFL","s":"s","x":1.4,"y":6.2},{"p":"32","m":"SCDPFL","s":"s","x":1.6,"y":7.3},{"p":"32","m":"SCDPFL","s":"s","x":1.8,"y":8.3},{"p":"32","m":"SCDPFL","s":"s","x":2.0,"y":9.3},{"p":"32","m":"SCDPFL","s":"s","x":2.3,"y":10.3},{"p":"32","m":"SCDPFL","s":"s","x":2.6,"y":11.0},{"p":"32","m":"SCDPFL","s":"s","x":3.0,"y":11.2},{"p":"32","m":"SCDPFL","s":"s","x":3.5,"y":11.5},{"p":"32","m":"SCDPFL","s":"s","x":4.0,"y":11.7},{"p":"32","m":"SCDPFL","s":"s","x":4.5,"y":11.8},{"p":"32","m":"SCDPFL","s":"s","x":5.0,"y":12.0},{"p":"32","m":"SCDPFL","s":"s","x":5.5,"y":12.0},{"p":"32","m":"SCDPFL","s":"s","x":6.0,"y":11.8},
{"p":"32","m":"FedKD","s":"s","x":0,"y":10},{"p":"32","m":"FedKD","s":"s","x":0.1,"y":13},{"p":"32","m":"FedKD","s":"s","x":0.25,"y":14.3},{"p":"32","m":"FedKD","s":"s","x":0.45,"y":14.2},{"p":"32","m":"FedKD","s":"s","x":0.7,"y":13.8},{"p":"32","m":"FedKD","s":"s","x":1.0,"y":13.6},{"p":"32","m":"FedKD","s":"s","x":1.5,"y":13.7},{"p":"32","m":"FedKD","s":"s","x":2.0,"y":13.5},{"p":"32","m":"FedKD","s":"s","x":2.5,"y":13.4},{"p":"32","m":"FedKD","s":"s","x":3.0,"y":13.5},{"p":"32","m":"FedKD","s":"s","x":3.5,"y":13.2},{"p":"32","m":"FedKD","s":"s","x":4.0,"y":13.2},{"p":"32","m":"FedKD","s":"s","x":4.5,"y":13.0},{"p":"32","m":"FedKD","s":"s","x":5.0,"y":13.1},{"p":"32","m":"FedKD","s":"s","x":5.5,"y":12.9},{"p":"32","m":"FedKD","s":"s","x":6.0,"y":12.9},
{"p":"32","m":"FedCache","s":"s","x":0,"y":9.5},{"p":"32","m":"FedCache","s":"s","x":0.1,"y":12},{"p":"32","m":"FedCache","s":"s","x":0.25,"y":13.5},{"p":"32","m":"FedCache","s":"s","x":0.45,"y":12.8},{"p":"32","m":"FedCache","s":"s","x":0.65,"y":12.4},{"p":"32","m":"FedCache","s":"s","x":0.9,"y":12.7},{"p":"32","m":"FedCache","s":"s","x":1.2,"y":13.2},{"p":"32","m":"FedCache","s":"s","x":1.6,"y":13.4},{"p":"32","m":"FedCache","s":"s","x":2.0,"y":13.8},{"p":"32","m":"FedCache","s":"s","x":2.4,"y":13.8},{"p":"32","m":"FedCache","s":"s","x":2.8,"y":14.0},
{"p":"32","m":"FedCache","s":"d","x":2.8,"y":14.0},{"p":"32","m":"FedCache","s":"d","x":6,"y":14.0},
{"p":"32","m":"FedCache 2.0","s":"s","x":0,"y":9.5},{"p":"32","m":"FedCache 2.0","s":"s","x":0.1,"y":14},{"p":"32","m":"FedCache 2.0","s":"s","x":0.2,"y":16.3},{"p":"32","m":"FedCache 2.0","s":"s","x":0.35,"y":17.8},{"p":"32","m":"FedCache 2.0","s":"s","x":0.5,"y":18.5},{"p":"32","m":"FedCache 2.0","s":"s","x":0.7,"y":18.8},{"p":"32","m":"FedCache 2.0","s":"s","x":0.9,"y":19.3},{"p":"32","m":"FedCache 2.0","s":"s","x":1.1,"y":20.0},{"p":"32","m":"FedCache 2.0","s":"s","x":1.3,"y":20.4},{"p":"32","m":"FedCache 2.0","s":"s","x":1.5,"y":20.7},{"p":"32","m":"FedCache 2.0","s":"s","x":1.7,"y":21.2},{"p":"32","m":"FedCache 2.0","s":"s","x":1.9,"y":21.6},{"p":"32","m":"FedCache 2.0","s":"s","x":2.1,"y":22.0},{"p":"32","m":"FedCache 2.0","s":"s","x":2.3,"y":22.3},{"p":"32","m":"FedCache 2.0","s":"s","x":2.5,"y":22.7},{"p":"32","m":"FedCache 2.0","s":"s","x":2.7,"y":23.0},
{"p":"32","m":"FedCache 2.0","s":"d","x":2.7,"y":23.0},{"p":"32","m":"FedCache 2.0","s":"d","x":6,"y":23.0},

{"p":"33","m":"FedKD","s":"s","x":0,"y":16},{"p":"33","m":"FedKD","s":"s","x":0.1,"y":24},{"p":"33","m":"FedKD","s":"s","x":0.2,"y":26.5},{"p":"33","m":"FedKD","s":"s","x":0.3,"y":25.8},{"p":"33","m":"FedKD","s":"s","x":0.5,"y":25.6},{"p":"33","m":"FedKD","s":"s","x":0.7,"y":25.5},{"p":"33","m":"FedKD","s":"s","x":0.9,"y":25.3},{"p":"33","m":"FedKD","s":"s","x":1.1,"y":25.2},{"p":"33","m":"FedKD","s":"s","x":1.3,"y":25.0},{"p":"33","m":"FedKD","s":"s","x":1.5,"y":24.6},{"p":"33","m":"FedKD","s":"s","x":1.7,"y":24.9},{"p":"33","m":"FedKD","s":"s","x":1.9,"y":24.4},{"p":"33","m":"FedKD","s":"s","x":2.1,"y":24.6},{"p":"33","m":"FedKD","s":"s","x":2.4,"y":24.2},{"p":"33","m":"FedKD","s":"s","x":2.7,"y":24.2},{"p":"33","m":"FedKD","s":"s","x":3.0,"y":24.0},{"p":"33","m":"FedKD","s":"s","x":3.3,"y":23.8},{"p":"33","m":"FedKD","s":"s","x":3.6,"y":23.5},{"p":"33","m":"FedKD","s":"s","x":4.0,"y":23.4},{"p":"33","m":"FedKD","s":"s","x":4.3,"y":23.2},{"p":"33","m":"FedKD","s":"s","x":4.6,"y":23.0},{"p":"33","m":"FedKD","s":"s","x":5.0,"y":22.9},{"p":"33","m":"FedKD","s":"s","x":5.3,"y":22.8},{"p":"33","m":"FedKD","s":"s","x":5.6,"y":22.5},{"p":"33","m":"FedKD","s":"s","x":6.0,"y":22.5},
{"p":"33","m":"FedCache","s":"s","x":0,"y":15},{"p":"33","m":"FedCache","s":"s","x":0.1,"y":22},{"p":"33","m":"FedCache","s":"s","x":0.2,"y":28},{"p":"33","m":"FedCache","s":"s","x":0.3,"y":29.5},{"p":"33","m":"FedCache","s":"s","x":0.4,"y":28.5},{"p":"33","m":"FedCache","s":"s","x":0.5,"y":26},{"p":"33","m":"FedCache","s":"s","x":0.65,"y":24.5},{"p":"33","m":"FedCache","s":"s","x":0.8,"y":25},{"p":"33","m":"FedCache","s":"s","x":1.0,"y":25.3},{"p":"33","m":"FedCache","s":"s","x":1.3,"y":25.1},{"p":"33","m":"FedCache","s":"s","x":1.6,"y":25.0},{"p":"33","m":"FedCache","s":"s","x":2.0,"y":25.1},{"p":"33","m":"FedCache","s":"s","x":2.4,"y":24.9},{"p":"33","m":"FedCache","s":"s","x":2.6,"y":25.0},{"p":"33","m":"FedCache","s":"s","x":2.8,"y":25.4},
{"p":"33","m":"FedCache","s":"d","x":2.8,"y":25.4},{"p":"33","m":"FedCache","s":"d","x":6,"y":25.4},
{"p":"33","m":"FedCache 2.0","s":"s","x":0,"y":9.5},{"p":"33","m":"FedCache 2.0","s":"s","x":0.05,"y":14},{"p":"33","m":"FedCache 2.0","s":"s","x":0.1,"y":18},{"p":"33","m":"FedCache 2.0","s":"s","x":0.2,"y":24},{"p":"33","m":"FedCache 2.0","s":"s","x":0.3,"y":27.5},{"p":"33","m":"FedCache 2.0","s":"s","x":0.45,"y":28.8},{"p":"33","m":"FedCache 2.0","s":"s","x":0.6,"y":29.5},{"p":"33","m":"FedCache 2.0","s":"s","x":0.8,"y":30.2},{"p":"33","m":"FedCache 2.0","s":"s","x":1.0,"y":31.0},{"p":"33","m":"FedCache 2.0","s":"s","x":1.2,"y":31.8},{"p":"33","m":"FedCache 2.0","s":"s","x":1.4,"y":32.7},{"p":"33","m":"FedCache 2.0","s":"s","x":1.6,"y":33.5},{"p":"33","m":"FedCache 2.0","s":"s","x":1.8,"y":34.3},{"p":"33","m":"FedCache 2.0","s":"s","x":1.95,"y":34.8},{"p":"33","m":"FedCache 2.0","s":"s","x":2.1,"y":35.1},
{"p":"33","m":"FedCache 2.0","s":"d","x":2.1,"y":35.1},{"p":"33","m":"FedCache 2.0","s":"d","x":6,"y":35.1},

{"p":"34","m":"FedKD","s":"s","x":0,"y":10},{"p":"34","m":"FedKD","s":"s","x":0.1,"y":13},{"p":"34","m":"FedKD","s":"s","x":0.25,"y":14.3},{"p":"34","m":"FedKD","s":"s","x":0.45,"y":13.9},{"p":"34","m":"FedKD","s":"s","x":0.7,"y":13.7},{"p":"34","m":"FedKD","s":"s","x":1.0,"y":13.8},{"p":"34","m":"FedKD","s":"s","x":1.3,"y":13.6},{"p":"34","m":"FedKD","s":"s","x":1.6,"y":13.7},{"p":"34","m":"FedKD","s":"s","x":2.0,"y":13.8},{"p":"34","m":"FedKD","s":"s","x":2.5,"y":13.7},{"p":"34","m":"FedKD","s":"s","x":3.0,"y":13.7},{"p":"34","m":"FedKD","s":"s","x":3.5,"y":13.5},{"p":"34","m":"FedKD","s":"s","x":4.0,"y":13.5},{"p":"34","m":"FedKD","s":"s","x":4.5,"y":13.3},{"p":"34","m":"FedKD","s":"s","x":5.0,"y":13.1},{"p":"34","m":"FedKD","s":"s","x":5.5,"y":13.1},{"p":"34","m":"FedKD","s":"s","x":6.0,"y":12.9},
{"p":"34","m":"FedCache","s":"s","x":0,"y":10},{"p":"34","m":"FedCache","s":"s","x":0.1,"y":12.5},{"p":"34","m":"FedCache","s":"s","x":0.25,"y":14.5},{"p":"34","m":"FedCache","s":"s","x":0.4,"y":13.8},{"p":"34","m":"FedCache","s":"s","x":0.6,"y":13.5},{"p":"34","m":"FedCache","s":"s","x":0.8,"y":13.5},{"p":"34","m":"FedCache","s":"s","x":1.0,"y":13.2},{"p":"34","m":"FedCache","s":"s","x":1.3,"y":12.7},{"p":"34","m":"FedCache","s":"s","x":1.6,"y":12.6},{"p":"34","m":"FedCache","s":"s","x":2.0,"y":12.7},{"p":"34","m":"FedCache","s":"s","x":2.4,"y":12.9},{"p":"34","m":"FedCache","s":"s","x":2.8,"y":13.0},{"p":"34","m":"FedCache","s":"s","x":3.0,"y":13.0},
{"p":"34","m":"FedCache","s":"d","x":3.0,"y":13.0},{"p":"34","m":"FedCache","s":"d","x":6,"y":13.0},
{"p":"34","m":"FedCache 2.0","s":"s","x":0,"y":9.5},{"p":"34","m":"FedCache 2.0","s":"s","x":0.05,"y":12},{"p":"34","m":"FedCache 2.0","s":"s","x":0.1,"y":14},{"p":"34","m":"FedCache 2.0","s":"s","x":0.2,"y":16.5},{"p":"34","m":"FedCache 2.0","s":"s","x":0.3,"y":17.5},{"p":"34","m":"FedCache 2.0","s":"s","x":0.45,"y":18.3},{"p":"34","m":"FedCache 2.0","s":"s","x":0.6,"y":18.7},{"p":"34","m":"FedCache 2.0","s":"s","x":0.8,"y":19.2},{"p":"34","m":"FedCache 2.0","s":"s","x":1.0,"y":19.7},{"p":"34","m":"FedCache 2.0","s":"s","x":1.2,"y":20.1},{"p":"34","m":"FedCache 2.0","s":"s","x":1.4,"y":20.6},{"p":"34","m":"FedCache 2.0","s":"s","x":1.6,"y":21.0},{"p":"34","m":"FedCache 2.0","s":"s","x":1.8,"y":21.4},{"p":"34","m":"FedCache 2.0","s":"s","x":2.0,"y":21.8},{"p":"34","m":"FedCache 2.0","s":"s","x":2.2,"y":22.2},{"p":"34","m":"FedCache 2.0","s":"s","x":2.4,"y":22.6},{"p":"34","m":"FedCache 2.0","s":"s","x":2.6,"y":22.9},{"p":"34","m":"FedCache 2.0","s":"s","x":2.75,"y":23.0},
{"p":"34","m":"FedCache 2.0","s":"d","x":2.75,"y":23.0},{"p":"34","m":"FedCache 2.0","s":"d","x":6,"y":23.0}
]},
"spacing": 16,
"vconcat": [
 {"spacing": 13, "hconcat": [
  {"spacing": 13, "title": {"text": "Model Homogeneous", "fontSize": 27, "offset": 9}, "hconcat": [
   {"title": {"text": "CIFAR10", "orient": "left", "fontSize": 30, "offset": 16}, "hconcat": [
    {"width": 273, "height": 215, "title": "α = 0.5", "transform": [{"filter": "datum.p == '11'"}],
     "mark": {"type": "line", "strokeWidth": 5, "interpolate": "monotone", "strokeCap": "butt"},
     "encoding": {
      "x": {"field": "x", "type": "quantitative", "scale": {"domain": [0, 6], "nice": false}, "axis": {"values": [0, 2, 4, 6], "title": null}},
      "y": {"field": "y", "type": "quantitative", "scale": {"domain": [0.2, 54.9], "nice": false, "zero": false}, "axis": {"values": [10, 20, 30, 40, 50], "title": "Avg UA (%)"}},
      "color": {"field": "m", "type": "nominal", "scale": {"domain": ["MTFL", "kNN-Per", "SCDPFL", "FedKD", "FedCache", "FedCache 2.0"], "range": ["#440154", "#22a884", "#414487", "#2a788e", "#7ad151", "#fde725"]}, "legend": {"orient": "none", "legendX": -5, "legendY": -142, "direction": "horizontal", "title": null}},
      "strokeDash": {"field": "s", "type": "nominal", "scale": {"domain": ["s", "d"], "range": [[1, 0], [20, 8]]}, "legend": null}}}
   ]},
   {"width": 273, "height": 215, "title": "α = 2.0", "transform": [{"filter": "datum.p == '12'"}],
    "mark": {"type": "line", "strokeWidth": 5, "interpolate": "monotone", "strokeCap": "butt"},
    "encoding": {
     "x": {"field": "x", "type": "quantitative", "scale": {"domain": [0, 6], "nice": false}, "axis": {"values": [0, 2, 4, 6], "title": null}},
     "y": {"field": "y", "type": "quantitative", "scale": {"domain": [0.2, 54.9], "nice": false, "zero": false}, "axis": {"values": [10, 20, 30, 40, 50], "title": null}},
     "color": {"field": "m", "type": "nominal", "scale": {"domain": ["MTFL", "kNN-Per", "SCDPFL", "FedKD", "FedCache", "FedCache 2.0"], "range": ["#440154", "#22a884", "#414487", "#2a788e", "#7ad151", "#fde725"]}, "legend": {"orient": "none", "legendX": -5, "legendY": -142, "direction": "horizontal", "title": null}},
     "strokeDash": {"field": "s", "type": "nominal", "scale": {"domain": ["s", "d"], "range": [[1, 0], [20, 8]]}, "legend": null}}}
  ]},
  {"spacing": 13, "title": {"text": "Model Heterogeneous", "fontSize": 27, "offset": 9}, "hconcat": [
   {"width": 273, "height": 215, "title": "α = 0.5", "transform": [{"filter": "datum.p == '13'"}],
    "mark": {"type": "line", "strokeWidth": 5, "interpolate": "monotone", "strokeCap": "butt"},
    "encoding": {
     "x": {"field": "x", "type": "quantitative", "scale": {"domain": [0, 6], "nice": false}, "axis": {"values": [0, 2, 4, 6], "title": null}},
     "y": {"field": "y", "type": "quantitative", "scale": {"domain": [0.2, 54.9], "nice": false, "zero": false}, "axis": {"values": [10, 20, 30, 40, 50], "title": null}},
     "color": {"field": "m", "type": "nominal", "scale": {"domain": ["MTFL", "kNN-Per", "SCDPFL", "FedKD", "FedCache", "FedCache 2.0"], "range": ["#440154", "#22a884", "#414487", "#2a788e", "#7ad151", "#fde725"]}, "legend": {"orient": "none", "legendX": -5, "legendY": -142, "direction": "horizontal", "title": null}},
     "strokeDash": {"field": "s", "type": "nominal", "scale": {"domain": ["s", "d"], "range": [[1, 0], [20, 8]]}, "legend": null}}},
   {"width": 273, "height": 215, "title": "α = 2.0", "transform": [{"filter": "datum.p == '14'"}],
    "mark": {"type": "line", "strokeWidth": 5, "interpolate": "monotone", "strokeCap": "butt"},
    "encoding": {
     "x": {"field": "x", "type": "quantitative", "scale": {"domain": [0, 6], "nice": false}, "axis": {"values": [0, 2, 4, 6], "title": null}},
     "y": {"field": "y", "type": "quantitative", "scale": {"domain": [0.2, 54.9], "nice": false, "zero": false}, "axis": {"values": [10, 20, 30, 40, 50], "title": null}},
     "color": {"field": "m", "type": "nominal", "scale": {"domain": ["MTFL", "kNN-Per", "SCDPFL", "FedKD", "FedCache", "FedCache 2.0"], "range": ["#440154", "#22a884", "#414487", "#2a788e", "#7ad151", "#fde725"]}, "legend": {"orient": "none", "legendX": -5, "legendY": -142, "direction": "horizontal", "title": null}},
     "strokeDash": {"field": "s", "type": "nominal", "scale": {"domain": ["s", "d"], "range": [[1, 0], [20, 8]]}, "legend": null}}}
  ]}
 ]},
 {"spacing": 13, "hconcat": [
  {"spacing": 13, "hconcat": [
   {"title": {"text": "CINIC10", "orient": "left", "fontSize": 30, "offset": 16}, "hconcat": [
    {"width": 273, "height": 215, "transform": [{"filter": "datum.p == '21'"}],
     "mark": {"type": "line", "strokeWidth": 5, "interpolate": "monotone", "strokeCap": "butt"},
     "encoding": {
      "x": {"field": "x", "type": "quantitative", "scale": {"domain": [0, 6], "nice": false}, "axis": {"values": [0, 2, 4, 6], "title": null}},
      "y": {"field": "y", "type": "quantitative", "scale": {"domain": [0.2, 54.9], "nice": false, "zero": false}, "axis": {"values": [10, 20, 30, 40, 50], "title": "Avg UA (%)"}},
      "color": {"field": "m", "type": "nominal", "scale": {"domain": ["MTFL", "kNN-Per", "SCDPFL", "FedKD", "FedCache", "FedCache 2.0"], "range": ["#440154", "#22a884", "#414487", "#2a788e", "#7ad151", "#fde725"]}, "legend": {"orient": "none", "legendX": -5, "legendY": -142, "direction": "horizontal", "title": null}},
      "strokeDash": {"field": "s", "type": "nominal", "scale": {"domain": ["s", "d"], "range": [[1, 0], [20, 8]]}, "legend": null}}}
   ]},
   {"width": 273, "height": 215, "transform": [{"filter": "datum.p == '22'"}],
    "mark": {"type": "line", "strokeWidth": 5, "interpolate": "monotone", "strokeCap": "butt"},
    "encoding": {
     "x": {"field": "x", "type": "quantitative", "scale": {"domain": [0, 6], "nice": false}, "axis": {"values": [0, 2, 4, 6], "title": null}},
     "y": {"field": "y", "type": "quantitative", "scale": {"domain": [0.2, 54.9], "nice": false, "zero": false}, "axis": {"values": [10, 20, 30, 40, 50], "title": null}},
     "color": {"field": "m", "type": "nominal", "scale": {"domain": ["MTFL", "kNN-Per", "SCDPFL", "FedKD", "FedCache", "FedCache 2.0"], "range": ["#440154", "#22a884", "#414487", "#2a788e", "#7ad151", "#fde725"]}, "legend": {"orient": "none", "legendX": -5, "legendY": -142, "direction": "horizontal", "title": null}},
     "strokeDash": {"field": "s", "type": "nominal", "scale": {"domain": ["s", "d"], "range": [[1, 0], [20, 8]]}, "legend": null}}}
  ]},
  {"spacing": 13, "hconcat": [
   {"width": 273, "height": 215, "transform": [{"filter": "datum.p == '23'"}],
    "mark": {"type": "line", "strokeWidth": 5, "interpolate": "monotone", "strokeCap": "butt"},
    "encoding": {
     "x": {"field": "x", "type": "quantitative", "scale": {"domain": [0, 6], "nice": false}, "axis": {"values": [0, 2, 4, 6], "title": null}},
     "y": {"field": "y", "type": "quantitative", "scale": {"domain": [0.2, 54.9], "nice": false, "zero": false}, "axis": {"values": [10, 20, 30, 40, 50], "title": null}},
     "color": {"field": "m", "type": "nominal", "scale": {"domain": ["MTFL", "kNN-Per", "SCDPFL", "FedKD", "FedCache", "FedCache 2.0"], "range": ["#440154", "#22a884", "#414487", "#2a788e", "#7ad151", "#fde725"]}, "legend": {"orient": "none", "legendX": -5, "legendY": -142, "direction": "horizontal", "title": null}},
     "strokeDash": {"field": "s", "type": "nominal", "scale": {"domain": ["s", "d"], "range": [[1, 0], [20, 8]]}, "legend": null}}},
   {"width": 273, "height": 215, "transform": [{"filter": "datum.p == '24'"}],
    "mark": {"type": "line", "strokeWidth": 5, "interpolate": "monotone", "strokeCap": "butt"},
    "encoding": {
     "x": {"field": "x", "type": "quantitative", "scale": {"domain": [0, 6], "nice": false}, "axis": {"values": [0, 2, 4, 6], "title": null}},
     "y": {"field": "y", "type": "quantitative", "scale": {"domain": [0.2, 54.9], "nice": false, "zero": false}, "axis": {"values": [10, 20, 30, 40, 50], "title": null}},
     "color": {"field": "m", "type": "nominal", "scale": {"domain": ["MTFL", "kNN-Per", "SCDPFL", "FedKD", "FedCache", "FedCache 2.0"], "range": ["#440154", "#22a884", "#414487", "#2a788e", "#7ad151", "#fde725"]}, "legend": {"orient": "none", "legendX": -5, "legendY": -142, "direction": "horizontal", "title": null}},
     "strokeDash": {"field": "s", "type": "nominal", "scale": {"domain": ["s", "d"], "range": [[1, 0], [20, 8]]}, "legend": null}}}
  ]}
 ]},
 {"spacing": 13, "hconcat": [
  {"spacing": 13, "hconcat": [
   {"title": {"text": "CIFAR100", "orient": "left", "fontSize": 30, "offset": 16}, "hconcat": [
    {"width": 273, "height": 215, "transform": [{"filter": "datum.p == '31'"}],
     "mark": {"type": "line", "strokeWidth": 5, "interpolate": "monotone", "strokeCap": "butt"},
     "encoding": {
      "x": {"field": "x", "type": "quantitative", "scale": {"domain": [0, 6], "nice": false}, "axis": {"values": [0, 2, 4, 6], "title": "Communication Cost (GB)"}},
      "y": {"field": "y", "type": "quantitative", "scale": {"domain": [0.2, 54.9], "nice": false, "zero": false}, "axis": {"values": [10, 20, 30, 40, 50], "title": "Avg UA (%)"}},
      "color": {"field": "m", "type": "nominal", "scale": {"domain": ["MTFL", "kNN-Per", "SCDPFL", "FedKD", "FedCache", "FedCache 2.0"], "range": ["#440154", "#22a884", "#414487", "#2a788e", "#7ad151", "#fde725"]}, "legend": {"orient": "none", "legendX": -5, "legendY": -142, "direction": "horizontal", "title": null}},
      "strokeDash": {"field": "s", "type": "nominal", "scale": {"domain": ["s", "d"], "range": [[1, 0], [20, 8]]}, "legend": null}}}
   ]},
   {"width": 273, "height": 215, "transform": [{"filter": "datum.p == '32'"}],
    "mark": {"type": "line", "strokeWidth": 5, "interpolate": "monotone", "strokeCap": "butt"},
    "encoding": {
     "x": {"field": "x", "type": "quantitative", "scale": {"domain": [0, 6], "nice": false}, "axis": {"values": [0, 2, 4, 6], "title": "Communication Cost (GB)"}},
     "y": {"field": "y", "type": "quantitative", "scale": {"domain": [0.2, 54.9], "nice": false, "zero": false}, "axis": {"values": [10, 20, 30, 40, 50], "title": null}},
     "color": {"field": "m", "type": "nominal", "scale": {"domain": ["MTFL", "kNN-Per", "SCDPFL", "FedKD", "FedCache", "FedCache 2.0"], "range": ["#440154", "#22a884", "#414487", "#2a788e", "#7ad151", "#fde725"]}, "legend": {"orient": "none", "legendX": -5, "legendY": -142, "direction": "horizontal", "title": null}},
     "strokeDash": {"field": "s", "type": "nominal", "scale": {"domain": ["s", "d"], "range": [[1, 0], [20, 8]]}, "legend": null}}}
  ]},
  {"spacing": 13, "hconcat": [
   {"width": 273, "height": 215, "transform": [{"filter": "datum.p == '33'"}],
    "mark": {"type": "line", "strokeWidth": 5, "interpolate": "monotone", "strokeCap": "butt"},
    "encoding": {
     "x": {"field": "x", "type": "quantitative", "scale": {"domain": [0, 6], "nice": false}, "axis": {"values": [0, 2, 4, 6], "title": "Communication Cost (GB)"}},
     "y": {"field": "y", "type": "quantitative", "scale": {"domain": [0.2, 54.9], "nice": false, "zero": false}, "axis": {"values": [10, 20, 30, 40, 50], "title": null}},
     "color": {"field": "m", "type": "nominal", "scale": {"domain": ["MTFL", "kNN-Per", "SCDPFL", "FedKD", "FedCache", "FedCache 2.0"], "range": ["#440154", "#22a884", "#414487", "#2a788e", "#7ad151", "#fde725"]}, "legend": {"orient": "none", "legendX": -5, "legendY": -142, "direction": "horizontal", "title": null}},
     "strokeDash": {"field": "s", "type": "nominal", "scale": {"domain": ["s", "d"], "range": [[1, 0], [20, 8]]}, "legend": null}}},
   {"width": 273, "height": 215, "transform": [{"filter": "datum.p == '34'"}],
    "mark": {"type": "line", "strokeWidth": 5, "interpolate": "monotone", "strokeCap": "butt"},
    "encoding": {
     "x": {"field": "x", "type": "quantitative", "scale": {"domain": [0, 6], "nice": false}, "axis": {"values": [0, 2, 4, 6], "title": "Communication Cost (GB)"}},
     "y": {"field": "y", "type": "quantitative", "scale": {"domain": [0.2, 54.9], "nice": false, "zero": false}, "axis": {"values": [10, 20, 30, 40, 50], "title": null}},
     "color": {"field": "m", "type": "nominal", "scale": {"domain": ["MTFL", "kNN-Per", "SCDPFL", "FedKD", "FedCache", "FedCache 2.0"], "range": ["#440154", "#22a884", "#414487", "#2a788e", "#7ad151", "#fde725"]}, "legend": {"orient": "none", "legendX": -5, "legendY": -142, "direction": "horizontal", "title": null}},
     "strokeDash": {"field": "s", "type": "nominal", "scale": {"domain": ["s", "d"], "range": [[1, 0], [20, 8]]}, "legend": null}}}
  ]}
 ]}
],
"config": {
 "font": "Liberation Serif",
 "view": {"stroke": "#333", "strokeWidth": 1},
 "axis": {"labelFont": "Liberation Serif", "labelFontSize": 18, "labelColor": "#000", "titleFont": "Liberation Serif", "titleFontSize": 19, "titleFontWeight": "normal", "titleColor": "#000", "domain": false, "grid": false, "ticks": true, "tickSize": 5, "tickColor": "#333", "labelPadding": 3, "labelFlush": false, "labelOverlap": false},
 "axisX": {"titlePadding": 3},
 "axisY": {"titleFontSize": 18, "titlePadding": 5},
 "title": {"font": "Liberation Serif", "fontWeight": "normal", "fontSize": 26, "color": "#000", "offset": 16, "anchor": "middle"},
 "legend": {"labelFont": "Liberation Serif", "labelFontSize": 30, "labelColor": "#000", "labelLimit": 400, "symbolType": "stroke", "symbolSize": 2304, "symbolStrokeWidth": 5, "labelOffset": 7, "columnPadding": 22, "symbolLimit": 0}
}
}
